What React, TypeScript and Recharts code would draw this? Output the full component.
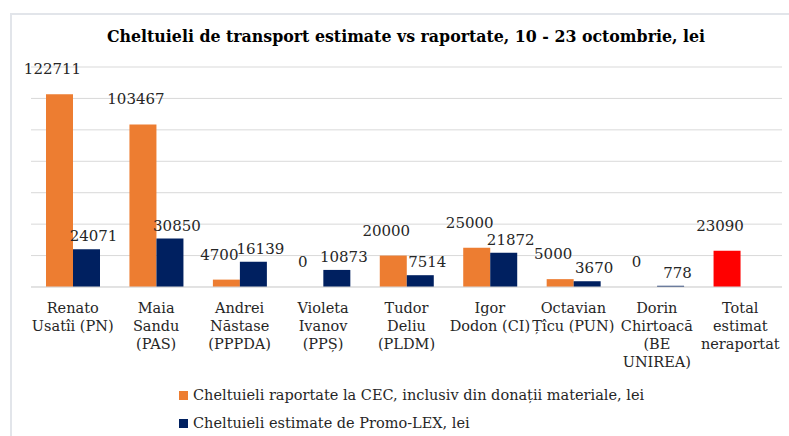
import React from "react";
import { BarChart, Bar, XAxis, YAxis, CartesianGrid, LabelList, Cell } from "recharts";

const categories = [
  "Renato\nUsatîi (PN)",
  "Maia\nSandu\n(PAS)",
  "Andrei\nNăstase\n(PPPDA)",
  "Violeta\nIvanov\n(PPȘ)",
  "Tudor\nDeliu\n(PLDM)",
  "Igor\nDodon (CI)",
  "Octavian\nȚîcu (PUN)",
  "Dorin\nChirtoacă\n(BE\nUNIREA)",
  "Total\nestimat\nneraportat",
];
const reported = [122711, 103467, 4700, 0, 20000, 25000, 5000, 0, 23090];
const estimated: (number | null)[] = [24071, 30850, 16139, 10873, 7514, 21872, 3670, 778, null];
const yTicks = [0, 20000, 40000, 60000, 80000, 100000, 120000, 140000];

const seriesNames = [
  "Cheltuieli raportate la CEC, inclusiv din donații materiale, lei",
  "Cheltuieli estimate de Promo-LEX, lei",
];
const title = "Cheltuieli de transport estimate vs raportate, 10 - 23 octombrie, lei";

const ORANGE = "#ED7D31";
const NAVY = "#002060";
const RED = "#FF0000";
const FONT = "'DejaVu Serif', serif";

const data = categories.map((name, i) => ({
  name,
  reported: reported[i],
  estimated: estimated[i],
}));

const CategoryTick = ({ x, y, payload }: any) => {
  const lines = String(payload.value).split("\n");
  return (
    <text x={x} y={y} textAnchor="middle" fill="#262626" fontSize={14.5} fontFamily={FONT}>
      {lines.map((l, i) => (
        <tspan key={i} x={x} dy={18}>
          {l}
        </tspan>
      ))}
    </text>
  );
};

const makeLabel = (dx: number, up: number) => (props: any) => {
  const { x, y, width, value } = props;
  if (value === null || value === undefined) return null;
  return (
    <text
      x={Number(x) + Number(width) / 2 + dx}
      y={Number(y) - up}
      textAnchor="middle"
      dominantBaseline="central"
      fill="#262626"
      fontSize={15}
      fontFamily={FONT}
    >
      {value}
    </text>
  );
};

export default function App() {
  return (
    <div style={{ position: "fixed", left: 0, top: 0, width: 789, height: 436, background: "#fff", overflow: "hidden" }}>
      <div
        style={{
          position: "absolute",
          left: 10,
          top: 13,
          width: 800,
          height: 440,
          borderLeft: "2px solid #E2E5EA",
          borderTop: "2px solid #E2E5EA",
        }}
      />
      <div
        style={{
          position: "absolute",
          left: 0,
          width: 812,
          top: 27,
          textAlign: "center",
          fontFamily: FONT,
          fontWeight: "bold",
          fontSize: 15.8,
          color: "#000",
        }}
      >
        {title}
      </div>
      <div style={{ position: "absolute", left: 0, top: 0 }}>
        <BarChart
          width={789}
          height={436}
          data={data}
          margin={{ top: 67, right: 7, left: 31, bottom: 89 }}
          barSize={27}
          barGap={0}
        >
          <CartesianGrid vertical={false} stroke="#D9D9D9" />
          <YAxis hide domain={[0, 140000]} ticks={yTicks} />
          <XAxis
            dataKey="name"
            interval={0}
            height={60}
            tickLine={false}
            axisLine={{ stroke: "#D9D9D9" }}
            tick={<CategoryTick />}
          />
          <Bar dataKey="reported" fill={ORANGE} minPointSize={0.01} isAnimationActive={false}>
            {data.map((d, i) => (
              <Cell key={i} fill={i === data.length - 1 ? RED : ORANGE} />
            ))}
            <LabelList dataKey="reported" content={makeLabel(-7, 25)} />
          </Bar>
          <Bar dataKey="estimated" fill={NAVY} isAnimationActive={false}>
            <LabelList dataKey="estimated" content={makeLabel(7, 13)} />
          </Bar>
        </BarChart>
      </div>
      <div style={{ position: "absolute", left: 179, top: 381, fontFamily: FONT, fontSize: 14.5, color: "#262626" }}>
        {seriesNames.map((n, i) => (
          <div key={n} style={{ display: "flex", alignItems: "center", height: 28 }}>
            <span style={{ width: 9, height: 9, background: i === 0 ? ORANGE : NAVY, marginRight: 5 }} />
            {n}
          </div>
        ))}
      </div>
    </div>
  );
}
